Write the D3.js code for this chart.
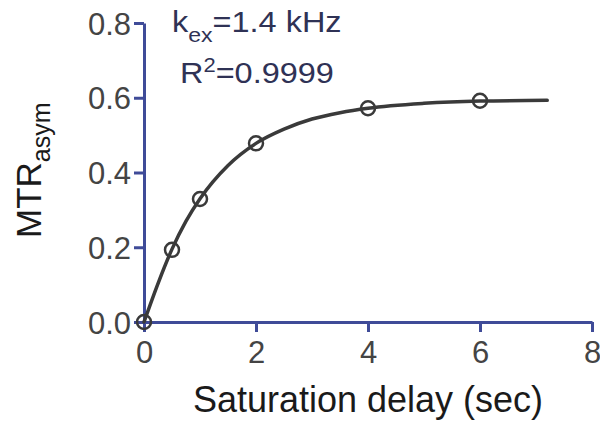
<!DOCTYPE html>
<html><head><meta charset="utf-8">
<script src="https://cdn.jsdelivr.net/npm/d3@7"></script>
<style>body{margin:0;background:#fff}svg{display:block}text{font-family:"Liberation Sans",Arial,Helvetica,sans-serif}</style>
</head><body>
<script>
const delayPoints = [0, 0.5, 1, 2, 4, 6];
const mtrPoints = [0, 0.193, 0.329, 0.478, 0.572, 0.592];
const fitDelay = [0, 0.25, 0.5, 0.75, 1, 1.5, 2, 2.5, 3, 3.5, 4, 5, 6, 7.2];
const fitMtr = [0, 0.103, 0.195, 0.27, 0.33, 0.419, 0.478, 0.516, 0.543, 0.56, 0.572, 0.585, 0.591, 0.593];
const xTicks = [0, 2, 4, 6, 8];
const yTicks = [0, 0.2, 0.4, 0.6, 0.8];
const xTitle = "Saturation delay (sec)";

const W = 600, H = 421;
const svg = d3.select("body").append("svg").attr("width", W).attr("height", H);
const x = d3.scaleLinear().domain([0, 8]).range([144, 592]);
const y = d3.scaleLinear().domain([0, 0.8]).range([322, 23]);
const axisCol = "#3f4b98", labCol = "#444444", lineCol = "#3a3a3a";

const xa = svg.append("g").attr("transform", "translate(0,322)")
  .call(d3.axisBottom(x).tickValues(xTicks).tickFormat(d3.format("d")).tickSize(10).tickSizeOuter(0).tickPadding(10));
const ya = svg.append("g").attr("transform", "translate(144,0)")
  .call(d3.axisLeft(y).tickValues(yTicks).tickFormat(d3.format(".1f")).tickSize(10).tickSizeOuter(0).tickPadding(3));
[xa, ya].forEach(a => {
  a.select(".domain").attr("stroke", axisCol).attr("stroke-width", 3);
  a.selectAll(".tick line").attr("stroke", axisCol).attr("stroke-width", 3);
  a.selectAll(".tick text").attr("fill", labCol).style("font-size", "31px")
   .attr("font-family", '"Liberation Sans",Arial,sans-serif');
});
xa.selectAll(".tick text").attr("dy", "0.71em").attr("y", 19);
ya.selectAll(".tick text").attr("dy", "0.36em");

const line = d3.line().x((d, i) => x(fitDelay[i])).y(d => y(d)).curve(d3.curveMonotoneX);
svg.append("path").datum(fitMtr).attr("d", line).attr("fill", "none")
  .attr("stroke", lineCol).attr("stroke-width", 3.5).attr("stroke-linecap", "round");

svg.append("g").selectAll("circle").data(mtrPoints).join("circle")
  .attr("cx", (d, i) => x(delayPoints[i])).attr("cy", d => y(d)).attr("r", 7)
  .attr("fill", "none").attr("stroke", lineCol).attr("stroke-width", 2.5);

// axis titles
svg.append("text").attr("x", x(4)).attr("y", 412).attr("text-anchor", "middle")
  .attr("fill", "#1a1a1a").style("font-size", "36px").text(xTitle);
const yt = svg.append("text").attr("transform", "translate(41,238) rotate(-90)")
  .attr("fill", "#1a1a1a").style("font-size", "35px");
yt.append("tspan").text("MTR");
yt.append("tspan").attr("dy", 9).style("font-size", "25px").text("asym");

// annotations
const annCol = "#2f3255";
const a1 = svg.append("text").attr("transform", "translate(172,32) scale(1.1,1)").attr("fill", annCol).style("font-size", "29.5px");
a1.append("tspan").text("k");
a1.append("tspan").attr("dy", 10).style("font-size", "21px").text("ex");
a1.append("tspan").attr("dy", -10).text("=1.4 kHz");
const a2 = svg.append("text").attr("transform", "translate(180,83) scale(1.1,1)").attr("fill", annCol).style("font-size", "29.5px");
a2.append("tspan").text("R");
a2.append("tspan").attr("dy", -11).style("font-size", "20px").text("2");
a2.append("tspan").attr("dy", 11).text("=0.9999");
</script>
</body></html>
